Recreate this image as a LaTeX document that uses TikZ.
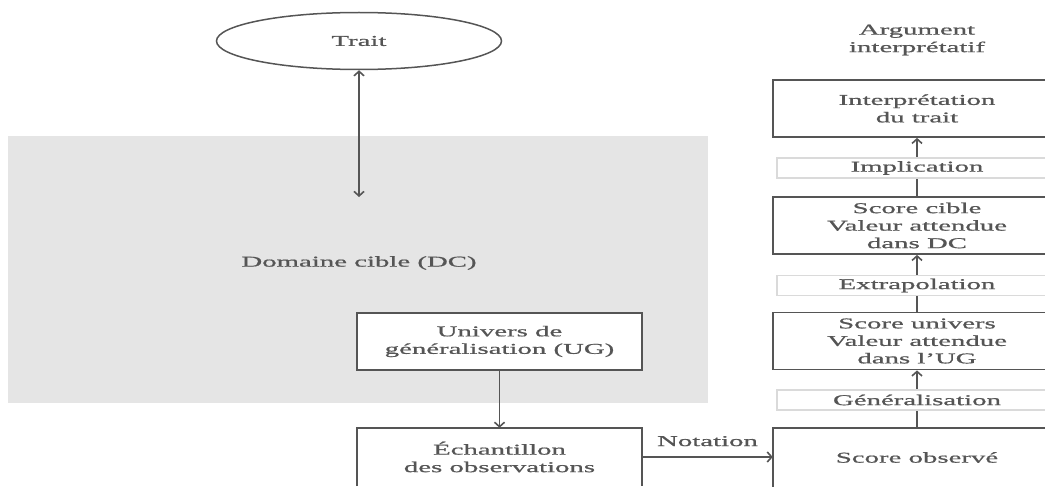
\documentclass[tikz,border=0pt]{standalone}
\usepackage{fontspec}
\setmainfont[FakeStretch=1.92,FakeBold=0.9]{Liberation Serif}
\usetikzlibrary{arrows.meta,positioning,shapes.geometric}
\definecolor{dcgray}{RGB}{229,229,229}
\definecolor{ink}{RGB}{85,85,85}
\definecolor{lblline}{RGB}{218,218,218}

\begin{document}
\begin{tikzpicture}[
  x=1pt,y=1pt,
  font=\fontsize{15}{17.5}\selectfont,
  every node/.style={text=ink},
  >={Straight Barb[length=4.5pt,width=10pt]},
  box/.style={draw=ink,line width=1.8pt,fill=white,align=center,inner sep=0pt,minimum width=285pt,minimum height=57pt},
  openbox/.style={align=center,inner sep=0pt,minimum width=285pt,minimum height=58pt},
  lbl/.style={draw=lblline,line width=1.6pt,fill=white,inner sep=0pt,minimum width=280pt,minimum height=20pt},
  trt/.style={draw=ink,line width=1.5pt,ellipse,inner sep=0pt,minimum width=285pt,minimum height=57pt},
  arr/.style={->,draw=ink,line width=1.6pt},
  edge/.style={draw=ink,line width=1.8pt}
]
\clip (0,0) rectangle (1045,-503);
% ---------- left side: trait and target domain ----------
\node[fill=dcgray,inner sep=0pt,minimum width=700pt,minimum height=267pt,anchor=north west] (dc) at (8,-136) {};
\node (dclabel) at (359,-263) {Domaine cible (DC)};
\node[trt] (trait) at (359,-41) {Trait};
\coordinate (dcend) at (359,-197);
\draw[arr,<->] (trait.south) -- (dcend);
\node[box] (ug) at (499.5,-341.5) {Univers de\\généralisation (UG)};
\node[openbox] (ech) at (499.5,-457) {Échantillon\\des observations};
\draw[edge] (ech.south west) -- (ech.north west) -- (ech.north east) -- (ech.south east);
\draw[arr] (ug.south) -- (ech.north);
% ---------- right side: interpretive argument ----------
\node[align=center] (arg) at (917,-40) {Argument\\interprétatif};
\node[box,minimum width=288pt] (interp) at (917,-108.5) {Interprétation\\du trait};
\node[box,minimum width=288pt] (cible) at (917,-225.5) {Score cible\\Valeur attendue\\dans DC};
\node[box,minimum width=288pt] (univ) at (917,-341) {Score univers\\Valeur attendue\\dans l’UG};
\node[openbox,minimum width=288pt] (obs) at (917,-457.5) {Score observé};
\draw[edge] (obs.south west) -- (obs.north west) -- (obs.north east) -- (obs.south east);
\draw[arr] (obs.north) -- (univ.south);
\draw[arr] (univ.north) -- (cible.south);
\draw[arr] (cible.north) -- (interp.south);
\node[lbl] (impl) at (917,-168) {Implication};
\node[lbl] (extra) at (917,-285.5) {Extrapolation};
\node[lbl] (gener) at (917,-400) {Généralisation};
% ---------- scoring ----------
\draw[arr] (ech.east) -- node[above=10pt,inner sep=0pt] (notlabel) {Notation} (ech.east -| obs.west);
\end{tikzpicture}
\end{document}
